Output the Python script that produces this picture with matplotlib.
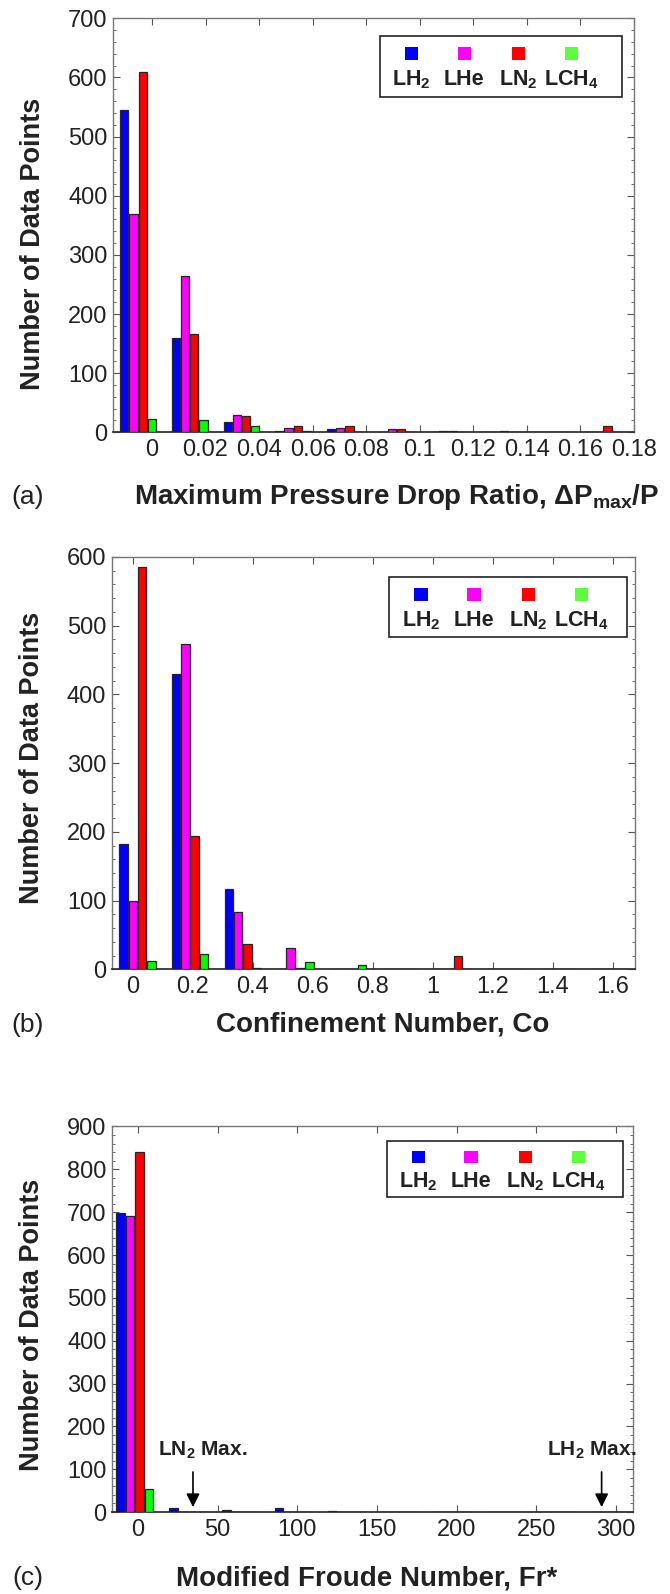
import numpy as np
import matplotlib
matplotlib.use("Agg")
import matplotlib.pyplot as plt
from matplotlib.patches import Rectangle

plt.rcParams['font.family'] = ['Liberation Sans', 'DejaVu Sans']
plt.rcParams['mathtext.fontset'] = 'custom'
plt.rcParams['mathtext.rm'] = 'Liberation Sans:bold'
plt.rcParams['mathtext.it'] = 'Liberation Sans:bold'
plt.rcParams['mathtext.bf'] = 'Liberation Sans:bold'

# ---------------- data ----------------
fluids = ['LH$_2$', 'LHe', 'LN$_2$', 'LCH$_4$']
colors = ['#0000FF', '#FF00FF', '#FF0000', '#00FF00']
legend_colors = ['#0000FF', '#FF00FF', '#FF0000', '#5CFF3C']

# (a) Maximum pressure drop ratio
bins_a = [-0.0052, 0.0141, 0.0334, 0.0527, 0.0720, 0.0913, 0.1106, 0.1298, 0.1491, 0.1684]
lh2_a  = [545, 159, 17, 3, 5, 0, 1, 0, 1, 1]
lhe_a  = [369, 264, 30, 8, 7, 5, 2, 1, 0, 0]
ln2_a  = [610, 166, 27, 11, 10, 5, 2, 3, 0, 10]
lch4_a = [23, 20, 10, 2, 0, 0, 0, 0, 0, 0]
xticks_a = [0, 0.02, 0.04, 0.06, 0.08, 0.10, 0.12, 0.14, 0.16, 0.18]
xticklabels_a = ['0', '0.02', '0.04', '0.06', '0.08', '0.1', '0.12', '0.14', '0.16', '0.18']

# (b) Confinement number
bins_b = [0.016, 0.191, 0.367, 0.542, 0.717, 0.893, 1.068, 1.243, 1.418, 1.594]
lh2_b  = [182, 430, 117, 0, 0, 0, 0, 0, 0, 0]
lhe_b  = [100, 473, 83, 31, 1, 1, 0, 0, 0, 1]
ln2_b  = [586, 194, 37, 2, 0, 0, 20, 1, 0, 0]
lch4_b = [12, 22, 2, 11, 6, 0, 0, 0, 0, 0]
xticks_b = [0, 0.2, 0.4, 0.6, 0.8, 1.0, 1.2, 1.4, 1.6]
xticklabels_b = ['0', '0.2', '0.4', '0.6', '0.8', '1', '1.2', '1.4', '1.6']

# (c) Modified Froude number
bins_c = [-2.0, 31.2, 64.4, 97.6, 130.8, 164.0, 197.2, 230.4, 263.6, 296.8]
lh2_c  = [697, 9, 5, 9, 3, 1, 0, 0, 0, 0]
lhe_c  = [690, 0, 0, 0, 0, 0, 0, 0, 0, 0]
ln2_c  = [840, 0, 0, 0, 0, 0, 0, 0, 0, 0]
lch4_c = [54, 0, 0, 0, 0, 0, 0, 0, 0, 0]
xticks_c = [0, 50, 100, 150, 200, 250, 300]
xticklabels_c = ['0', '50', '100', '150', '200', '250', '300']
ln2_max = 34.6
lh2_max = 291.0

# ---------------- figure ----------------
fig = plt.figure(figsize=(6.7, 15.94), dpi=100)
H = 1594.0
W = 670.0

panels = [
    dict(rect=[0.1687, 0.7288, 0.7776, 0.2597], bins=bins_a, series=[lh2_a, lhe_a, ln2_a, lch4_a],
         xlim=(-0.01455, 0.18), ylim=(0, 700), xt=xticks_a, xtl=xticklabels_a,
         xlabel='Maximum Pressure Drop Ratio, $\\Delta$P$_{max}$/P', xlab_x=397, xlab_y=497,
         xlab_fs=20, tag='(a)', ylab_y=0.455, leg=(0.512, 0.977, 0.811, 0.957)),
    dict(rect=[0.1667, 0.3919, 0.7811, 0.2587], bins=bins_b, series=[lh2_b, lhe_b, ln2_b, lch4_b],
         xlim=(-0.07, 1.674), ylim=(0, 600), xt=xticks_b, xtl=xticklabels_b,
         xlabel='Confinement Number, Co', xlab_x=383, xlab_y=1025,
         xlab_fs=20, tag='(b)', ylab_y=0.513, leg=(0.530, 0.985, 0.805, 0.951)),
    dict(rect=[0.1672, 0.0514, 0.7776, 0.2419], bins=bins_c, series=[lh2_c, lhe_c, ln2_c, lch4_c],
         xlim=(-16.2, 310.7), ylim=(0, 900), xt=xticks_c, xtl=xticklabels_c,
         xlabel='Modified Froude Number, Fr*', xlab_x=367, xlab_y=1578,
         xlab_fs=20, tag='(c)', ylab_y=0.486, leg=(0.527, 0.980, 0.817, 0.962)),
]

for p in panels:
    ax = fig.add_axes(p['rect'])
    bins = np.array(p['bins'])
    spacing = bins[1] - bins[0]
    step = 0.178 * spacing
    width = 0.160 * spacing
    for i, (vals, c) in enumerate(zip(p['series'], colors)):
        ax.bar(bins + (i - 1.5) * step, vals, width=width, color=c,
               edgecolor='#262626', linewidth=0.9, zorder=3)
    ax.set_xlim(*p['xlim'])
    ax.set_ylim(*p['ylim'])
    ax.set_xticks(p['xt'])
    ax.set_xticklabels(p['xtl'])
    ax.set_yticks(np.arange(0, p['ylim'][1] + 1, 100))
    ax.set_yticks(np.arange(0, p['ylim'][1] + 1, 20), minor=True)
    ax.tick_params(axis='both', which='both', direction='in', top=True, right=True,
                   colors='#555555', labelcolor='#222222')
    ax.tick_params(axis='both', which='major', length=5, width=0.8, labelsize=17)
    ax.tick_params(axis='y', which='minor', length=2.5, width=0.6)
    ax.tick_params(axis='x', which='major', pad=5)
    ax.tick_params(axis='y', which='major', pad=4)
    for s in ax.spines.values():
        s.set_color('#777777')
        s.set_linewidth(1.0)
    ax.spines['bottom'].set_color('#333333')
    ax.spines['bottom'].set_linewidth(1.3)
    ax.set_ylabel('Number of Data Points', fontsize=19.5, fontweight='bold', color='#222222')
    ax.yaxis.set_label_coords(-0.128, p['ylab_y'])

    # legend drawn in axes fraction
    x0, x1, y0, y1 = p['leg']
    ax.add_patch(Rectangle((x0, y0), x1 - x0, y1 - y0, transform=ax.transAxes,
                           facecolor='white', edgecolor='#222222', linewidth=1.2, zorder=5))
    offs = [0.061, 0.162, 0.266, 0.368]
    for dx, c, lab in zip(offs, legend_colors, fluids):
        x = x0 + dx
        ax.add_patch(Rectangle((x - 0.0128, y1 - 0.042 - 0.016), 0.0256, 0.032,
                               transform=ax.transAxes, facecolor=c, edgecolor='none', zorder=6))
        ax.text(x, y1 - 0.105, lab, transform=ax.transAxes, ha='center', va='center',
                fontsize=15.5, fontweight='bold', color='#222222', zorder=6)

    fig.text(p['xlab_x'] / W, 1 - p['xlab_y'] / H, p['xlabel'], ha='center', va='center',
             fontsize=p['xlab_fs'], fontweight='bold', color='#222222')
    fig.text(28 / W, 1 - p['xlab_y'] / H, p['tag'], ha='center', va='center',
             fontsize=19, color='#222222')

    if p['tag'] == '(c)':
        ax.annotate('', xy=(ln2_max, 5), xytext=(ln2_max, 100),
                    arrowprops=dict(arrowstyle='-|>', color='black', lw=1.2,
                                    mutation_scale=20), zorder=6)
        ax.text(12.7, 145, 'LN$_2$ Max.', ha='left', va='center', fontsize=15,
                fontweight='bold', color='#222222')
        ax.annotate('', xy=(lh2_max, 5), xytext=(lh2_max, 100),
                    arrowprops=dict(arrowstyle='-|>', color='black', lw=1.2,
                                    mutation_scale=20), zorder=6)
        ax.text(313, 145, 'LH$_2$ Max.', ha='right', va='center', fontsize=15,
                fontweight='bold', color='#222222', clip_on=False)

fig.savefig('out.png', dpi=100)
